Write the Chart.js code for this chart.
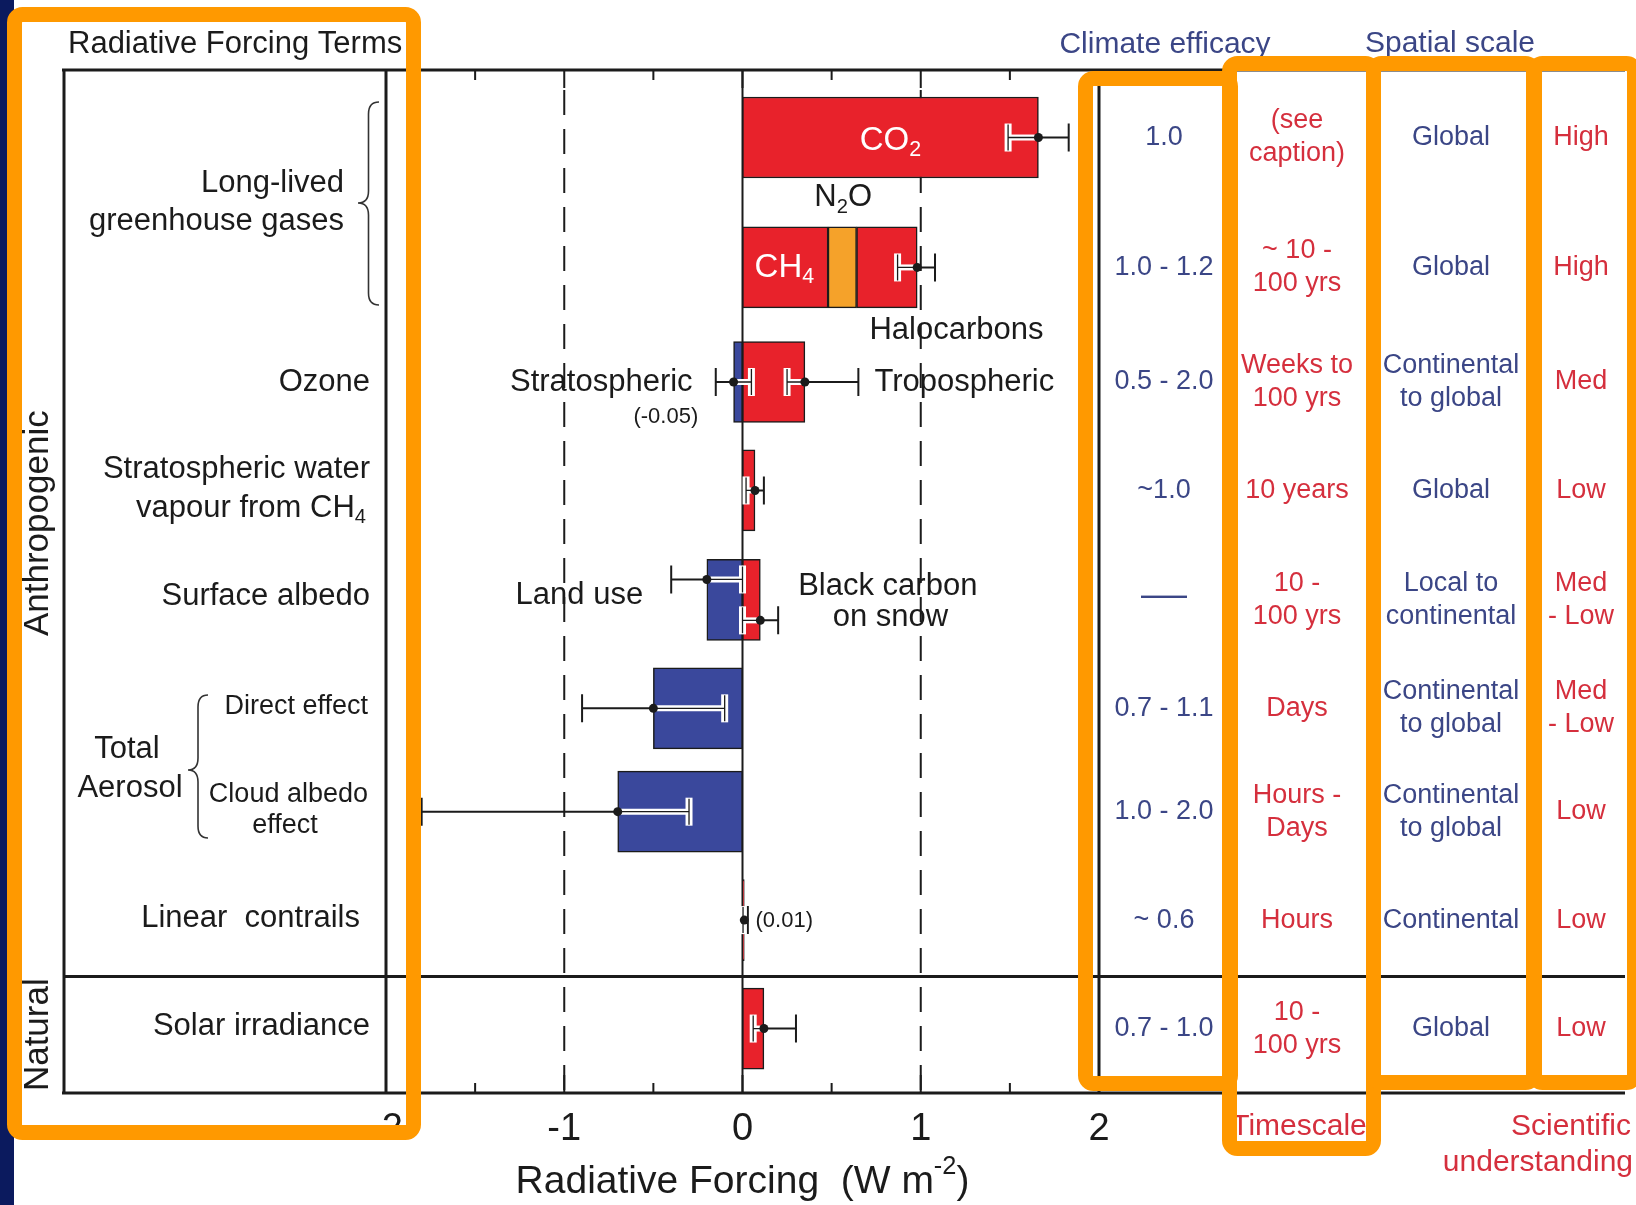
<!DOCTYPE html>
<html>
<head>
<meta charset="utf-8">
<script src="https://cdn.jsdelivr.net/npm/chart.js@4.4.1/dist/chart.umd.min.js"></script>
<style>
  html, body { margin: 0; padding: 0; background: #fff; }
  canvas { display: block; }
</style>
</head>
<body>
<canvas id="rf" width="1636" height="1205"></canvas>
<script>
// DATA

// vertical slot of each forcing term (y scale runs 0..10, top to bottom)
const rowY = [0.66, 1.93, 3.05, 4.11, 5.18, 6.24, 7.25, 8.31, 9.37];
const naturalSplit = 8.86;

// bars: [row, from, to]  (W m-2)
const warmingBars = [[0, 0, 1.66], [1, 0, 0.48], [1, 0.64, 0.98], [2, 0, 0.35], [3, 0, 0.07], [4, 0, 0.10], [7, 0, 0.01], [8, 0, 0.12]];
const n2oBars = [[1, 0.48, 0.64]];
const coolingBars = [[2, -0.05, 0], [4, -0.2, 0], [5, -0.5, 0], [6, -0.7, 0]];

// uncertainty: [row, best, low, high]
const uncertainty = [
  [0, 1.66, 1.49, 1.83], [1, 0.98, 0.87, 1.08], [2, -0.05, -0.15, 0.05], [2, 0.35, 0.25, 0.65],
  [3, 0.07, 0.02, 0.12], [4, -0.2, -0.4, 0.0], [4, 0.10, 0.0, 0.20], [5, -0.5, -0.9, -0.1],
  [6, -0.7, -1.8, -0.3], [7, 0.01, 0.003, 0.03], [8, 0.12, 0.06, 0.30]
];
// land use / black carbon whiskers sit above / below the row middle
const uncertaintyShift = [0, 0, 0, 0, 0, -0.2, 0.2, 0, 0, 0, 0];

const xTicks = [-2, -1, 0, 1, 2];

// table columns
const efficacy = ['1.0', '1.0 - 1.2', '0.5 - 2.0', '~1.0', '——', '0.7 - 1.1', '1.0 - 2.0', '~ 0.6', '0.7 - 1.0'];
const timescale = [['(see', 'caption)'], ['~ 10 -', '100 yrs'], ['Weeks to', '100 yrs'], ['10 years'], ['10 -', '100 yrs'], ['Days'], ['Hours -', 'Days'], ['Hours'], ['10 -', '100 yrs']];
const spatialScale = [['Global'], ['Global'], ['Continental', 'to global'], ['Global'], ['Local to', 'continental'], ['Continental', 'to global'], ['Continental', 'to global'], ['Continental'], ['Global']];
const understanding = [['High'], ['High'], ['Med'], ['Low'], ['Med', '- Low'], ['Med', '- Low'], ['Low'], ['Low'], ['Low']];

// STYLE
const FONT = "'Liberation Sans', Arial, Helvetica, sans-serif";
const RED = '#e8222b';
const BLUE = '#3a489c';
const N2O_COLOR = '#f5a22a';
const INK = '#1b1b1b';
const TXT_BLUE = '#3b4686';
const TXT_RED = '#d52f3d';
const HILITE = '#ff9900';
const NAVY = '#0b1a5e';

const setFont = (ctx, size, weight) => { ctx.font = (weight ? weight + ' ' : '') + size + 'px ' + FONT; };

const drawText = (ctx, s, x, y, size, color, align, weight) => {
  setFont(ctx, size, weight);
  ctx.fillStyle = color;
  ctx.textAlign = align || 'center';
  ctx.textBaseline = 'middle';
  ctx.fillText(s, x, y);
};

// parts: [text, kind]  kind -1 = subscript, 1 = superscript
const drawRich = (ctx, parts, x, y, size, color, align) => {
  const small = size * 0.65;
  let w = 0;
  parts.forEach(([s, k]) => { setFont(ctx, k ? small : size); w += ctx.measureText(s).width; });
  let cx = align === 'left' ? x : (align === 'right' ? x - w : x - w / 2);
  ctx.fillStyle = color;
  ctx.textAlign = 'left';
  ctx.textBaseline = 'middle';
  parts.forEach(([s, k]) => {
    setFont(ctx, k ? small : size);
    const dy = k === -1 ? size * 0.3 : (k === 1 ? -size * 0.38 : 0);
    ctx.fillText(s, cx, y + dy);
    cx += ctx.measureText(s).width;
  });
};

const brace = (ctx, xl, xr, y0, yMid, y1) => {
  const xm = (xl + xr) / 2;
  const r = 12;
  ctx.beginPath();
  ctx.moveTo(xr, y0);
  ctx.quadraticCurveTo(xm, y0, xm, y0 + r);
  ctx.lineTo(xm, yMid - r);
  ctx.quadraticCurveTo(xm, yMid, xl, yMid);
  ctx.quadraticCurveTo(xm, yMid, xm, yMid + r);
  ctx.lineTo(xm, y1 - r);
  ctx.quadraticCurveTo(xm, y1, xr, y1);
  ctx.stroke();
};

const toBars = rows => rows.map(([row, from, to]) => ({ x: [from, to], y: rowY[row] }));

const rfPlugin = {
  id: 'rfPlugin',
  beforeDraw(chart) {
    const { ctx } = chart;
    ctx.save();
    ctx.fillStyle = '#fff';
    ctx.fillRect(0, 0, chart.width, chart.height);
    ctx.fillStyle = NAVY;
    ctx.fillRect(0, 0, 14, chart.height);
    ctx.restore();
  },
  beforeDatasetsDraw(chart) {
    const { ctx, chartArea: a, scales: { x } } = chart;
    ctx.save();
    ctx.strokeStyle = INK;
    ctx.lineWidth = 2;
    ctx.setLineDash([25, 14]);
    [-1, 1].forEach(v => {
      const px = x.getPixelForValue(v);
      ctx.beginPath(); ctx.moveTo(px, a.top + 20); ctx.lineTo(px, a.bottom); ctx.stroke();
    });
    ctx.setLineDash([]);
    const p0 = x.getPixelForValue(0);
    ctx.beginPath(); ctx.moveTo(p0, a.top); ctx.lineTo(p0, a.bottom); ctx.stroke();
    ctx.restore();
  },
  afterDatasetsDraw(chart) {
    const { ctx, chartArea: a, scales: { x, y } } = chart;
    ctx.save();

    // uncertainty whiskers
    uncertainty.forEach(([row, best, lo, hi], i) => {
      const py = y.getPixelForValue(rowY[row] + uncertaintyShift[i]);
      const pb = x.getPixelForValue(best);
      const inner = x.getPixelForValue(best > 0 ? lo : hi);
      const outer = x.getPixelForValue(best > 0 ? hi : lo);
      ctx.lineCap = 'butt';
      // outer part, black
      ctx.strokeStyle = INK; ctx.lineWidth = 2;
      ctx.beginPath(); ctx.moveTo(pb, py); ctx.lineTo(outer, py);
      ctx.moveTo(outer, py - 14); ctx.lineTo(outer, py + 14); ctx.stroke();
      // inner part, white halo
      ctx.strokeStyle = '#fff'; ctx.lineWidth = 6;
      ctx.beginPath(); ctx.moveTo(pb, py); ctx.lineTo(inner, py); ctx.stroke();
      ctx.lineWidth = 7;
      ctx.beginPath(); ctx.moveTo(inner, py - 14); ctx.lineTo(inner, py + 14); ctx.stroke();
      ctx.strokeStyle = INK; ctx.lineWidth = 1.3;
      ctx.beginPath(); ctx.moveTo(pb, py); ctx.lineTo(inner, py);
      ctx.moveTo(inner, py - 13); ctx.lineTo(inner, py + 13); ctx.stroke();
      ctx.fillStyle = INK;
      ctx.beginPath(); ctx.arc(pb, py, 4.5, 0, Math.PI * 2); ctx.fill();
    });

    // frame and table rules
    const left = 64, right = 1625;
    const ySplit = y.getPixelForValue(naturalSplit);
    ctx.strokeStyle = INK; ctx.lineWidth = 3;
    ctx.beginPath();
    ctx.moveTo(left - 2, a.top); ctx.lineTo(right, a.top);
    ctx.moveTo(left - 2, a.bottom); ctx.lineTo(right, a.bottom);
    ctx.moveTo(left, ySplit); ctx.lineTo(right, ySplit);
    ctx.moveTo(left, a.top); ctx.lineTo(left, a.bottom);
    ctx.moveTo(a.left, a.top); ctx.lineTo(a.left, a.bottom);
    ctx.moveTo(a.right, a.top); ctx.lineTo(a.right, a.bottom);
    ctx.stroke();

    // axis ticks every 0.5, pointing inward
    ctx.lineWidth = 2;
    for (let v = -2; v <= 2.001; v += 0.5) {
      const px = x.getPixelForValue(v);
      const len = Number.isInteger(v) ? 18 : 10;
      ctx.beginPath();
      ctx.moveTo(px, a.top); ctx.lineTo(px, a.top + len);
      ctx.moveTo(px, a.bottom); ctx.lineTo(px, a.bottom - len);
      ctx.stroke();
    }

    // labels inside the plot
    const X = v => x.getPixelForValue(v);
    const Y = v => y.getPixelForValue(v);
    drawRich(ctx, [['CO', 0], ['2', -1]], X(0.83), Y(0.69), 33, '#fff', 'center');
    drawRich(ctx, [['CH', 0], ['4', -1]], X(0.235), Y(1.93), 33, '#fff', 'center');
    drawRich(ctx, [['N', 0], ['2', -1], ['O', 0]], X(0.565), Y(1.25), 31, INK, 'center');
    drawText(ctx, 'Halocarbons', X(1.2), Y(2.55), 31, INK);
    drawText(ctx, 'Stratospheric', X(-0.28), Y(rowY[2]), 31, INK, 'right');
    drawText(ctx, '(-0.05)', X(-0.43), Y(3.39), 22, INK);
    drawText(ctx, 'Tropospheric', X(0.74), Y(rowY[2]), 31, INK, 'left');
    drawText(ctx, 'Land use', X(-0.915), Y(5.14), 31, INK);
    drawText(ctx, 'Black carbon', X(0.815), Y(5.05), 31, INK);
    drawText(ctx, 'on snow', X(0.83), Y(5.35), 31, INK);
    drawText(ctx, '(0.01)', X(0.073), Y(8.32), 22, INK, 'left');

    // term labels on the left
    const rx = 370;
    drawText(ctx, 'Radiative Forcing Terms', 68, 44, 31, INK, 'left');
    drawText(ctx, 'Long-lived', 344, 183, 31, INK, 'right');
    drawText(ctx, 'greenhouse gases', 344, 221, 31, INK, 'right');
    drawText(ctx, 'Ozone', rx, Y(rowY[2]), 31, INK, 'right');
    drawText(ctx, 'Stratospheric water', rx, Y(rowY[3]) - 21, 31, INK, 'right');
    drawRich(ctx, [['vapour from CH', 0], ['4', -1]], rx - 4, Y(rowY[3]) + 18, 31, INK, 'right');
    drawText(ctx, 'Surface albedo', rx, Y(rowY[4]) - 3, 31, INK, 'right');
    drawText(ctx, 'Direct effect', 368, Y(rowY[5]) - 2, 27, INK, 'right');
    drawText(ctx, 'Cloud albedo', 368, Y(rowY[6]) - 17, 27, INK, 'right');
    drawText(ctx, 'effect', 285, Y(rowY[6]) + 14, 27, INK);
    drawText(ctx, 'Total', 127, 749, 31, INK);
    drawText(ctx, 'Aerosol', 130, 788, 31, INK);
    drawText(ctx, 'Linear  contrails', 360, Y(rowY[7]) - 2, 31, INK, 'right');
    drawText(ctx, 'Solar irradiance', rx, Y(rowY[8]) - 2, 31, INK, 'right');

    ctx.strokeStyle = '#333'; ctx.lineWidth = 1.6;
    brace(ctx, 358, 379, 102, 203, 305);
    brace(ctx, 188, 208, 695, 770, 838);

    ctx.save();
    ctx.translate(38, (a.top + ySplit) / 2);
    ctx.rotate(-Math.PI / 2);
    drawText(ctx, 'Anthropogenic', 0, 0, 35, INK);
    ctx.restore();
    ctx.save();
    ctx.translate(38, (ySplit + a.bottom) / 2);
    ctx.rotate(-Math.PI / 2);
    drawText(ctx, 'Natural', 0, 0, 35, INK);
    ctx.restore();

    // table
    const colX = [1164, 1297, 1451, 1581];
    const lines = (list, cx, color) => list.forEach((entry, row) => {
      const cy = Y(rowY[row]);
      const items = Array.isArray(entry) ? entry : [entry];
      items.forEach((s, k) => {
        const off = items.length === 1 ? 0 : (k === 0 ? -16.5 : 16.5);
        if (s === '——') drawText(ctx, s, cx, cy - 3, 23, color, 'center', 'bold');
        else drawText(ctx, s, cx, cy + off, 27, color);
      });
    });
    lines(efficacy, colX[0], TXT_BLUE);
    lines(timescale, colX[1], TXT_RED);
    lines(spatialScale, colX[2], TXT_BLUE);
    lines(understanding, colX[3], TXT_RED);

    drawText(ctx, 'Climate efficacy', 1165, 45, 30, TXT_BLUE);
    drawText(ctx, 'Spatial scale', 1450, 44, 30, TXT_BLUE);
    drawText(ctx, 'Timescale', 1299, 1127, 30, TXT_RED);
    drawText(ctx, 'Scientific', 1631, 1127, 30, TXT_RED, 'right');
    drawText(ctx, 'understanding', 1633, 1163, 30, TXT_RED, 'right');

    // axis title
    drawRich(ctx, [['Radiative Forcing  (W m', 0], ['-2', 1], [')', 0]], X(0), 1182, 39, INK, 'center');
    ctx.restore();
  },
  afterDraw(chart) {
    const { ctx } = chart;
    // highlight boxes: outer left, top, right, bottom
    const boxes = [[7, 7, 421, 1140], [1078, 71, 1238, 1091], [1222, 56, 1381, 1156], [1366, 56, 1541, 1090], [1527, 56, 1642, 1090]];
    const lw = 15;
    ctx.save();
    ctx.strokeStyle = HILITE;
    ctx.lineWidth = lw;
    boxes.forEach(([l, t, r, b]) => {
      ctx.beginPath();
      ctx.roundRect(l + lw / 2, t + lw / 2, r - l - lw, b - t - lw, 8);
      ctx.stroke();
    });
    ctx.restore();
  }
};

const barStyle = {
  grouped: false,
  barThickness: 81,
  borderWidth: 1.5,
  borderColor: INK,
  borderSkipped: false
};

new Chart(document.getElementById('rf'), {
  type: 'bar',
  data: {
    datasets: [
      Object.assign({ label: 'Warming', data: toBars(warmingBars), backgroundColor: RED }, barStyle),
      Object.assign({ label: 'N2O', data: toBars(n2oBars), backgroundColor: N2O_COLOR }, barStyle),
      Object.assign({ label: 'Cooling', data: toBars(coolingBars), backgroundColor: BLUE }, barStyle)
    ]
  },
  options: {
    indexAxis: 'y',
    responsive: false,
    animation: false,
    layout: { padding: { left: 386, right: 537, top: 70, bottom: 54 } },
    plugins: { legend: { display: false }, tooltip: { enabled: false } },
    scales: {
      x: {
        type: 'linear', min: -2, max: 2,
        afterBuildTicks: s => { s.ticks = xTicks.map(v => ({ value: v })); },
        grid: { display: false, drawTicks: false },
        border: { display: false },
        ticks: { font: { family: FONT, size: 38 }, color: INK, padding: 14 },
        afterFit: s => { s.height = 58; }
      },
      y: { type: 'linear', min: 0, max: 10, reverse: true, offset: false, display: false }
    }
  },
  plugins: [rfPlugin]
});
</script>
</body>
</html>
